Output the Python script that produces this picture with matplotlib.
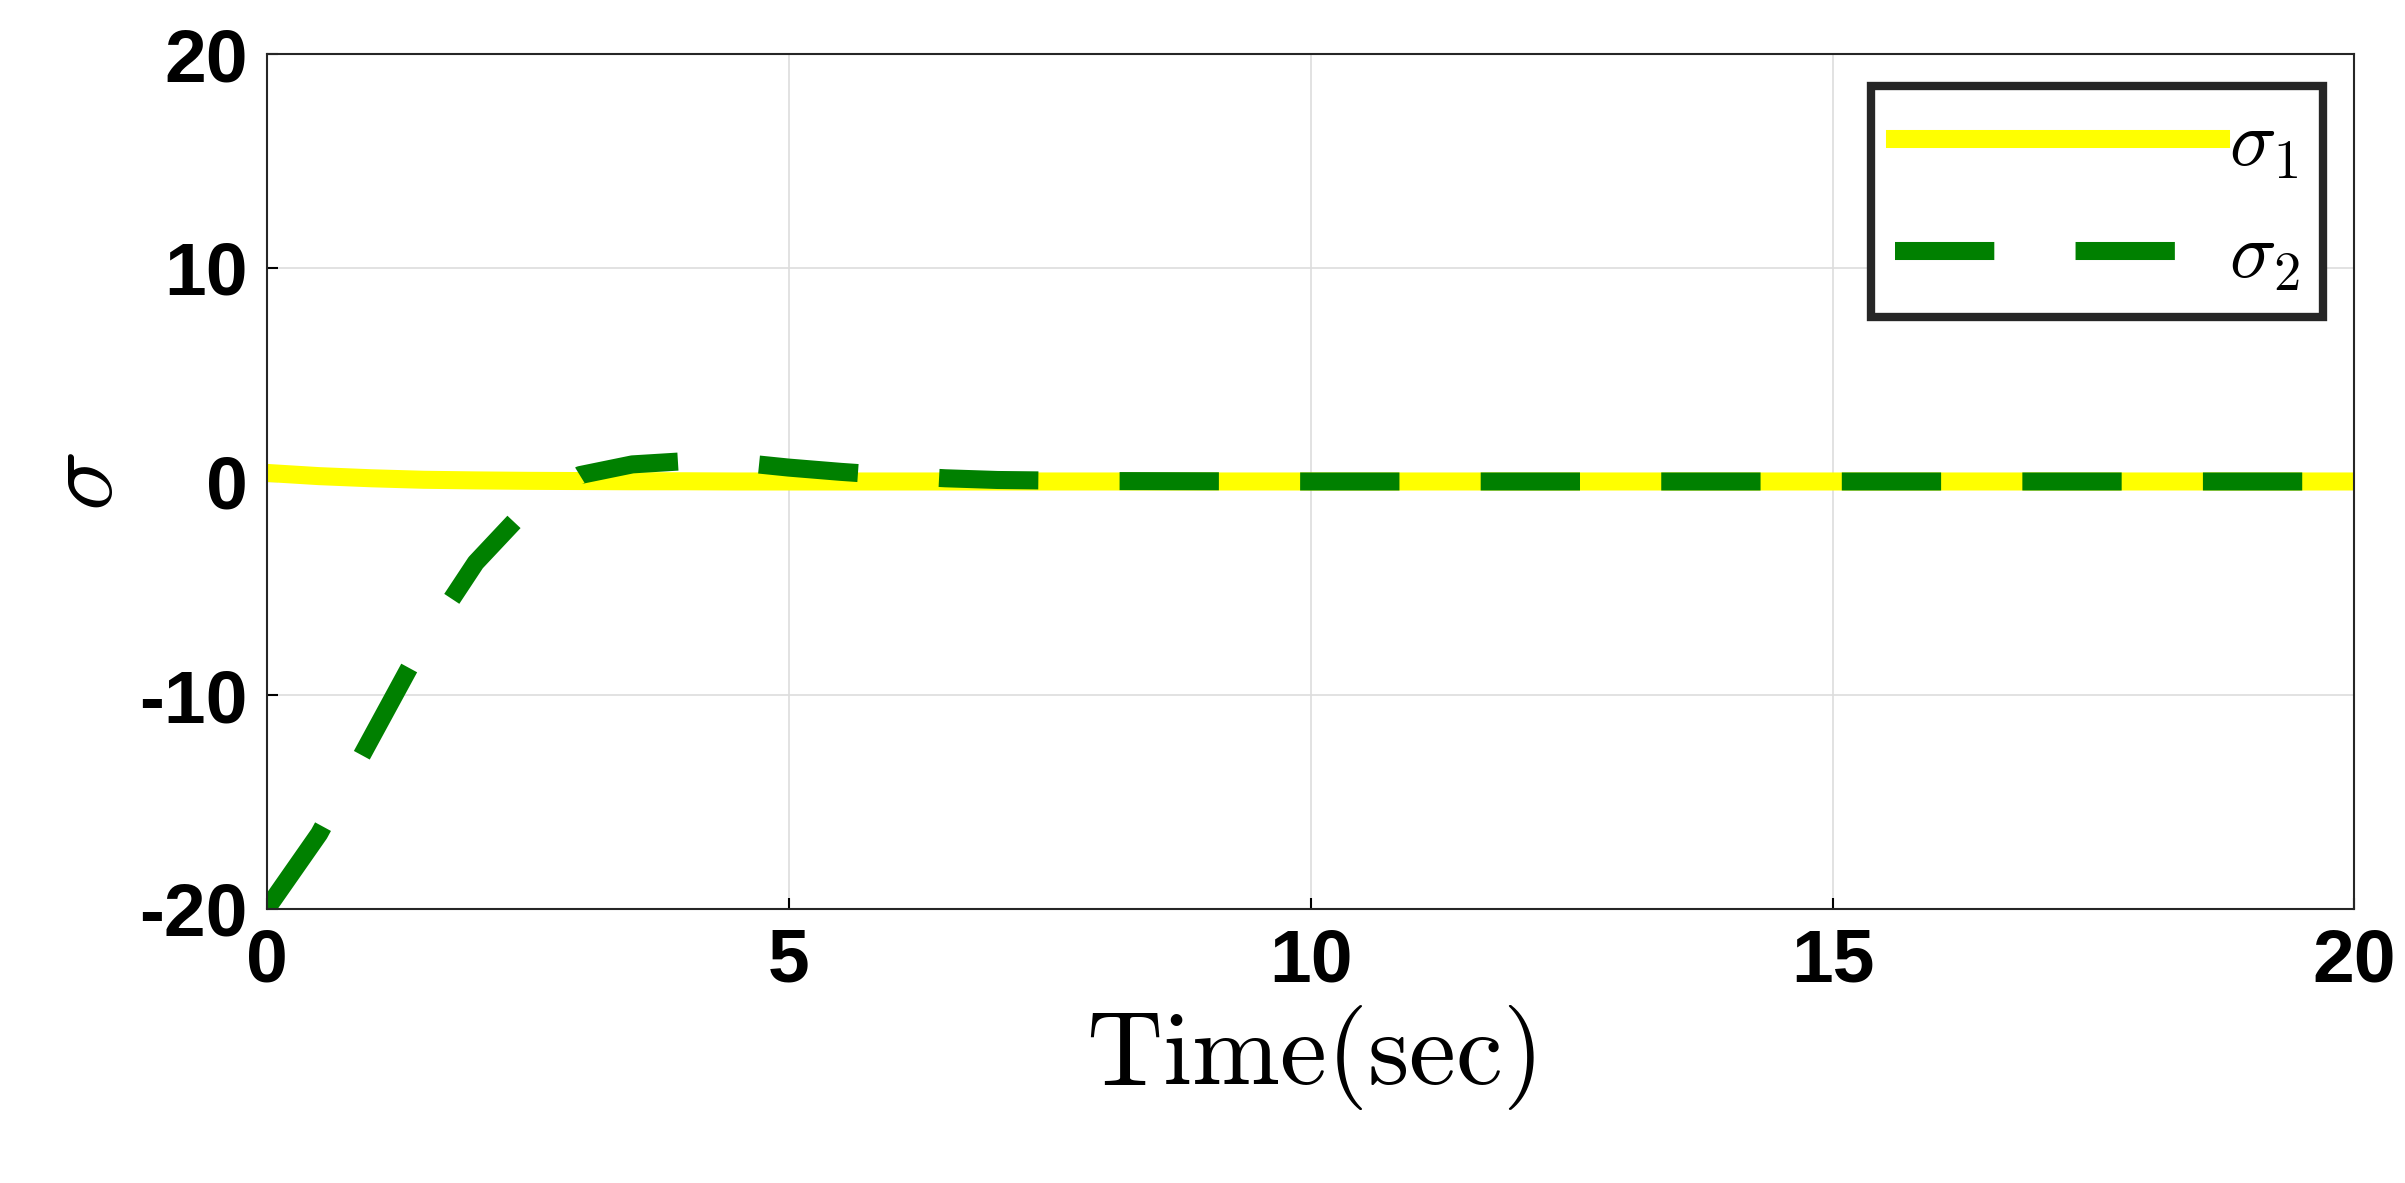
import numpy as np
import matplotlib.pyplot as plt
from matplotlib.ticker import FuncFormatter

plt.rcParams['font.family'] = 'Liberation Sans'
plt.rcParams['font.weight'] = 'bold'
plt.rcParams['mathtext.fontset'] = 'cm'

t = [0, 0.5, 1.0, 1.5, 2.0, 2.5, 3.0, 3.5, 4.0, 4.5, 5.0, 5.5, 6.0, 6.5, 7.0, 8, 10, 12, 14, 16, 18, 20]
sigma1 = [0.4, 0.25, 0.15, 0.08, 0.05, 0.03, 0.02, 0.01, 0.01, 0, 0, 0, 0, 0, 0, 0, 0, 0, 0, 0, 0, 0]
sigma2 = [-20, -16.5, -12.0, -7.5, -3.8, -1.2, 0.3, 0.8, 0.95, 0.9, 0.65, 0.45, 0.28, 0.15, 0.07, 0.02, 0, 0, 0, 0, 0, 0]

fig = plt.figure(figsize=(24.05, 11.83), dpi=100)
ax = fig.add_axes([0.111, 0.232, 0.868, 0.722])

ax.plot(t, sigma1, color='#ffff00', lw=13, label=r'$\sigma_1$')
ax.plot(t, sigma2, color='#008000', lw=13, dashes=(5.5, 4.5), label=r'$\sigma_2$')

ax.set_xlim(0, 20)
ax.set_ylim(-20, 20)
ax.set_xticks([0, 5, 10, 15, 20])
ax.set_yticks([-20, -10, 0, 10, 20])
ax.yaxis.set_major_formatter(FuncFormatter(lambda v, p: f'{v:g}'))
ax.tick_params(labelsize=54, length=8, width=1.5, direction='in', pad=14)
ax.grid(True, color='#dddddd', lw=1.2)
for s in ax.spines.values():
    s.set_linewidth(1.5)
    s.set_color('#262626')

ax.set_xlabel(r'$\mathrm{Time(sec)}$', fontsize=76, labelpad=4)
ax.set_ylabel(r'$\sigma$', fontsize=72)

leg = ax.legend(loc='upper right', fontsize=56, handlelength=4.2,
                fancybox=False, framealpha=1, borderaxespad=0.4,
                handletextpad=0.1, borderpad=0.3)
leg.get_frame().set_linewidth(6)
leg.get_frame().set_edgecolor('#262626')

fig.savefig('out.png', dpi=100)
